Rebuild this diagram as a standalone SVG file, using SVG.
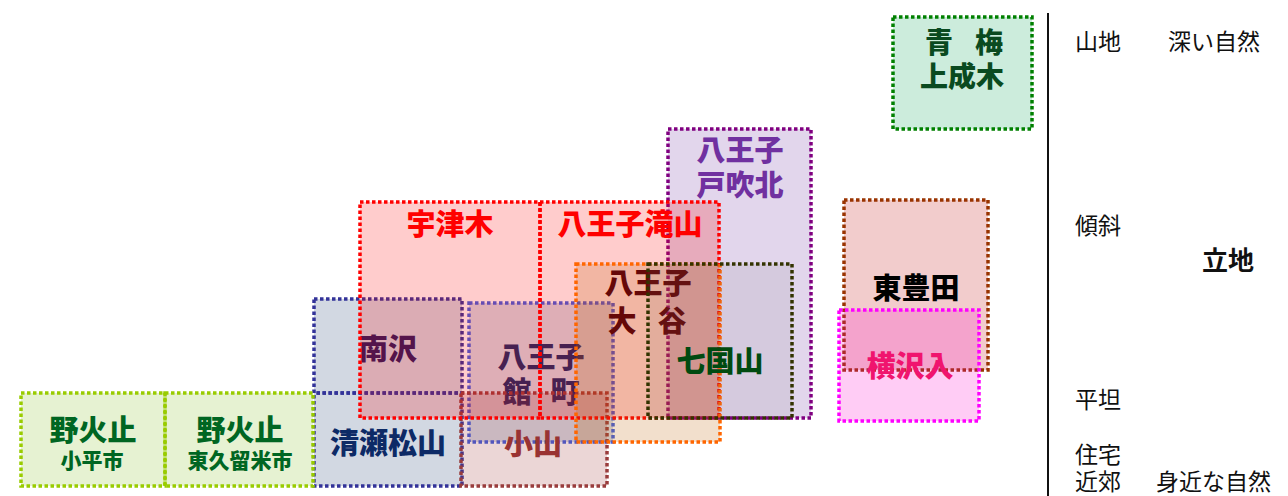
<svg xmlns="http://www.w3.org/2000/svg" width="1288" height="496" viewBox="0 0 1288 496">
<style>
.b{stroke-width:3.5;stroke-dasharray:3.5 2.5;}
.t{font-family:"Noto Sans CJK JP","Noto Sans CJK SC",sans-serif;font-weight:900;text-anchor:middle;}
.s{font-family:"Noto Sans CJK JP","Noto Sans CJK SC",sans-serif;font-size:23px;fill:#111;}
</style>
<rect width="1288" height="496" fill="#fff"/>
<g id="oume">
<rect class="b" x="893" y="17" width="139" height="112" fill="#00a050" fill-opacity="0.2" stroke="#008000"/>
<text class="t" font-size="28" fill="#0a4a20"><tspan x="939" y="53">青</tspan><tspan x="989" y="53">梅</tspan><tspan x="962" y="87">上成木</tspan></text>
</g>
<g id="tobuki">
<rect class="b" x="668" y="129" width="143" height="289" fill="#7030a0" fill-opacity="0.2" stroke="#800080"/>
<text class="t" font-size="29" fill="#7030a0"><tspan x="740" y="161">八王子</tspan><tspan x="740" y="196">戸吹北</tspan></text>
</g>
<g id="minamisawa">
<rect class="b" x="314" y="299" width="148" height="94" fill="#1f3a6f" fill-opacity="0.2" stroke="#333399"/>
<text class="t" font-size="29" fill="#2a1a5e" x="388" y="360">南沢</text>
</g>
<g id="kiyose">
<rect class="b" x="314" y="393" width="148" height="93" fill="#1f3a6f" fill-opacity="0.2" stroke="#333399" stroke-dashoffset="3.5"/>
<text class="t" font-size="29" fill="#0d2a66" x="388" y="454">清瀬松山</text>
</g>
<g id="tatemachi">
<rect class="b" x="469" y="303" width="144" height="139" fill="#304878" fill-opacity="0.2" stroke="#4060e0"/>
<text class="t" font-size="29" fill="#1a2a66"><tspan x="541" y="368">八王子</tspan><tspan x="517" y="403">館</tspan><tspan x="565" y="403">町</tspan></text>
</g>
<g id="koyama">
<rect class="b" x="461" y="393" width="146" height="93" fill="#993333" fill-opacity="0.2" stroke="#993c3c"/>
<text class="t" font-size="29" fill="#993333" x="533" y="455">小山</text>
</g>
<g id="utsugi">
<rect class="b" x="360" y="202" width="180" height="216" fill="#ff0000" fill-opacity="0.2" stroke="#ff0000"/>
<text class="t" font-size="29" fill="#ff0000" x="450" y="235">宇津木</text>
</g>
<g id="takiyama">
<rect class="b" x="540" y="202" width="179" height="216" fill="#ff0000" fill-opacity="0.2" stroke="#ff0000"/>
<text class="t" font-size="29" fill="#ff0000" x="630" y="235">八王子滝山</text>
</g>
<g id="ooya">
<rect class="b" x="576" y="264" width="144" height="178" fill="#c06000" fill-opacity="0.2" stroke="#ff6600"/>
<text class="t" font-size="29" fill="#660808"><tspan x="648" y="294">八王子</tspan><tspan x="622" y="332">大</tspan><tspan x="672" y="332">谷</tspan></text>
</g>
<g id="nanakuniyama">
<rect class="b" x="648" y="264" width="144" height="154" fill="#606060" fill-opacity="0.1" stroke="#333300"/>
<text class="t" font-size="29" fill="#004a10" x="720" y="372">七国山</text>
</g>
<g id="higashitoyoda">
<rect class="b" x="844" y="200" width="144" height="170" fill="#c00000" fill-opacity="0.2" stroke="#993300"/>
<text class="t" font-size="29" fill="#000" x="916" y="299">東豊田</text>
</g>
<g id="yokosawairi">
<rect class="b" x="839" y="310" width="140" height="111" fill="#ff00cc" fill-opacity="0.2" stroke="#ff00ff"/>
<text class="t" font-size="29" fill="#f0146e" x="910" y="377">横沢入</text>
</g>
<g id="nobidome-kodaira">
<rect class="b" x="21" y="393" width="144" height="93" fill="#80c020" fill-opacity="0.2" stroke="#99cc00"/>
<text class="t" fill="#006622"><tspan x="93" y="441" font-size="29">野火止</tspan><tspan x="92" y="468" font-size="21">小平市</tspan></text>
</g>
<g id="nobidome-higashikurume">
<rect class="b" x="165" y="393" width="148" height="93" fill="#80c020" fill-opacity="0.2" stroke="#99cc00"/>
<text class="t" fill="#006622"><tspan x="240" y="441" font-size="29">野火止</tspan><tspan x="240" y="468" font-size="21">東久留米市</tspan></text>
</g>
<g id="axis">
<line x1="1048" y1="13" x2="1048" y2="496" stroke="#111" stroke-width="2"/>
<text class="s" x="1075" y="50">山地</text>
<text class="s" x="1168" y="50">深い自然</text>
<text class="s" x="1075" y="234">傾斜</text>
<text class="s" x="1228" y="270" style="font-size:26px;font-weight:bold" text-anchor="middle">立地</text>
<text class="s" x="1075" y="408">平坦</text>
<text class="s" x="1075" y="463">住宅</text>
<text class="s" x="1075" y="490">近郊</text>
<text class="s" x="1156" y="490">身近な自然</text>
</g>
</svg>
